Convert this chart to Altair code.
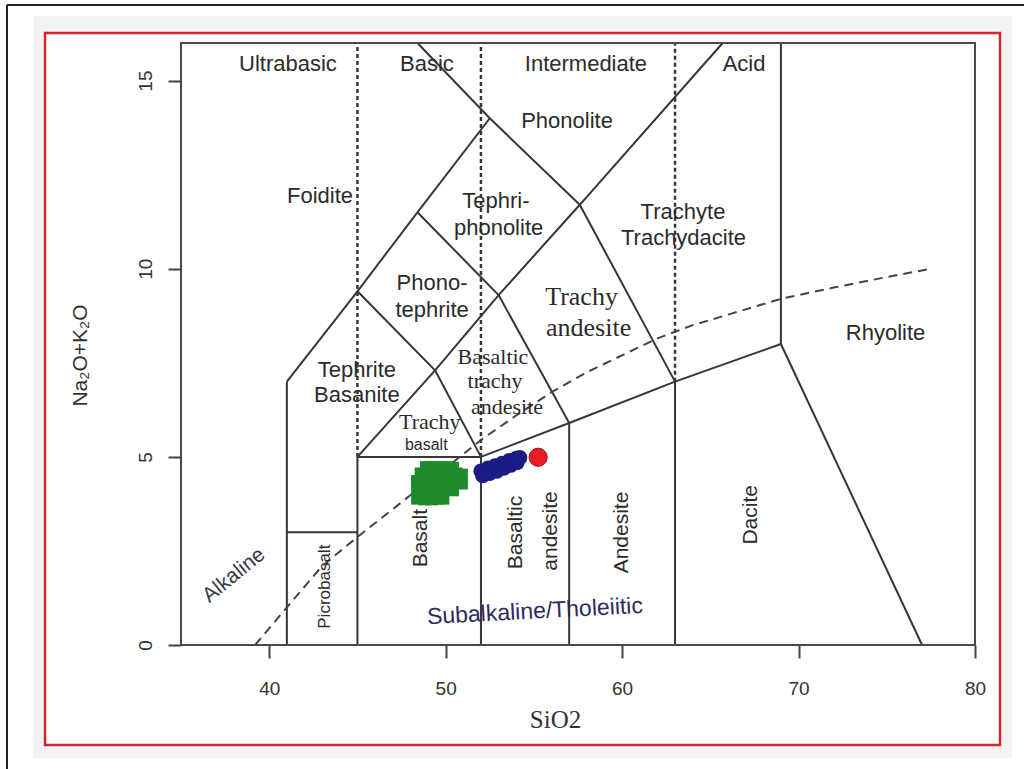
import altair as alt
import pandas as pd

# Axis ranges (SiO2 wt% vs total alkalis wt%)
SIO2_RANGE = [35, 80]
ALK_RANGE = [0, 16]
SIO2_TICKS = [40, 50, 60, 70, 80]
ALK_TICKS = [0, 5, 10, 15]

# TAS field boundaries: (x1, y1, x2, y2)
TAS_BOUNDARIES = [
    (41, 0, 41, 7), (41, 3, 45, 3), (45, 0, 45, 5), (45, 5, 52, 5),
    (52, 0, 52, 5), (52, 5, 57, 5.9), (57, 0, 57, 5.9), (57, 5.9, 63, 7),
    (63, 0, 63, 7), (63, 7, 69, 8), (69, 8, 77, 0), (69, 8, 69, 16),
    (41, 7, 45, 9.4), (45, 9.4, 48.4, 11.5), (48.4, 11.5, 52.5, 14),
    (52.5, 14, 48.4, 16), (52.5, 14, 57.6, 11.7), (57.6, 11.7, 63, 7),
    (45, 5, 49.4, 7.3), (49.4, 7.3, 53, 9.3), (53, 9.3, 57.6, 11.7),
    (57.6, 11.7, 65.7, 16), (52, 5, 49.4, 7.3), (49.4, 7.3, 45, 9.4),
    (48.4, 11.5, 53, 9.3), (53, 9.3, 57, 5.9),
]

# Ultrabasic / basic / intermediate / acid dividers
SILICA_DIVIDERS = [(45, 5, 45, 16), (52, 5, 52, 16), (63, 7, 63, 16)]

# Alkaline / subalkaline divide (Irvine & Baragar)
DIVIDE_SIO2 = [39.2, 41, 43, 45, 48, 50, 52, 54, 56, 58, 60, 62, 64, 66, 69, 72, 75, 77.5]
DIVIDE_ALK = [0, 1.0, 2.1, 2.87, 3.98, 4.7, 5.45, 6.1, 6.72, 7.25, 7.7, 8.15, 8.5, 8.78, 9.2, 9.5, 9.78, 10.0]

# Field labels
SANS_LABELS = [
    ("Ultrabasic", 41.06, 15.44), ("Basic", 48.94, 15.44),
    ("Intermediate", 57.95, 15.44), ("Acid", 66.91, 15.44),
    ("Phonolite", 56.88, 13.93), ("Foidite", 42.88, 11.93),
    ("Tephri-", 52.85, 11.8), ("phonolite", 53.0, 11.08),
    ("Trachyte", 63.45, 11.51), ("Trachydacite", 63.48, 10.82),
    ("Phono-", 49.23, 9.62), ("tephrite", 49.23, 8.90),
    ("Rhyolite", 74.93, 8.28),
    ("Tephrite", 44.97, 7.31), ("Basanite", 44.97, 6.64),
]
SERIF_LARGE_LABELS = [("Trachy", 57.70, 9.25), ("andesite", 58.10, 8.42)]
SERIF_LABELS = [
    ("Basaltic", 52.68, 7.65), ("trachy", 52.80, 7.02),
    ("andesite", 53.48, 6.33), ("Trachy", 49.1, 5.93),
]
SMALL_LABELS = [("basalt", 48.9, 5.32)]
VERTICAL_LABELS = [
    ("Basalt", 48.6, 2.84), ("Basaltic", 53.99, 2.99),
    ("andesite", 55.97, 3.03), ("Andesite", 60.02, 2.99),
    ("Dacite", 67.3, 3.46),
]
PICRO_LABEL = [("Picrobasalt", 43.16, 1.55)]
ALKALINE_LABEL = [("Alkaline", 38.0, 1.85)]
SUBALKALINE_LABEL = [("Subalkaline/Tholeiitic", 55.06, 0.89)]

# Samples
GROUP1_SIO2 = [48.9, 49.3, 49.7, 50.1, 50.4,
               48.6, 49.0, 49.4, 49.8, 50.2, 50.6, 50.9,
               48.4, 48.8, 49.2, 49.6, 50.0, 50.4, 50.9,
               48.4, 48.8, 49.2, 49.6, 50.0, 50.4,
               48.4, 48.8, 49.2, 49.6, 49.85]
GROUP1_ALK = [4.72, 4.72, 4.72, 4.72, 4.70,
              4.55, 4.55, 4.55, 4.55, 4.55, 4.55, 4.52,
              4.35, 4.35, 4.35, 4.35, 4.35, 4.35, 4.30,
              4.15, 4.15, 4.15, 4.15, 4.15, 4.12,
              3.90, 3.88, 3.88, 3.90, 3.90]
GROUP2_SIO2 = [52.0, 52.4, 52.8, 53.2, 53.6, 54.0, 54.2,
               52.1, 52.5, 52.9, 53.3, 53.7, 54.05]
GROUP2_ALK = [4.62, 4.70, 4.76, 4.83, 4.90, 4.96, 4.98,
              4.50, 4.56, 4.62, 4.70, 4.78, 4.85]
GROUP3_SIO2 = [55.24]
GROUP3_ALK = [4.99]

W, H = 794, 602
INK = "#363636"
TEXT = "#2b2b2b"

xs = alt.Scale(domain=SIO2_RANGE, nice=False, zero=False)
ys = alt.Scale(domain=ALK_RANGE, nice=False, zero=False)

x_axis = alt.Axis(
    values=SIO2_TICKS, domain=False, grid=False, tickSize=13, tickWidth=2,
    tickColor="#444", labelFont="Liberation Sans", labelFontSize=19,
    labelColor="#333", labelPadding=21, labelFlush=False, title="SiO2",
    titleFont="Liberation Serif", titleFontSize=25, titleFontWeight="normal",
    titleColor="#333", titleX=374, titleY=74, titleAlign="center",
    titleBaseline="middle", zindex=1,
)
y_axis = alt.Axis(
    values=ALK_TICKS, domain=False, grid=False, tickSize=13, tickWidth=2,
    tickColor="#444", labelFont="Liberation Sans", labelFontSize=19,
    labelColor="#333", labelAngle=270, labelAlign="center",
    labelBaseline="bottom", labelPadding=13, title="Na₂O+K₂O",
    titleFont="Liberation Sans", titleFontSize=21, titleFontWeight="normal",
    titleColor="#333", titleAngle=270, titleX=-101, titleY=312,
    titleAlign="center", titleBaseline="middle", zindex=1,
)

X = alt.X("x:Q", scale=xs, axis=x_axis)
Y = alt.Y("y:Q", scale=ys, axis=y_axis)

one = pd.DataFrame({"k": [0]})

# Page decoration: shaded card, red frame and the dark edges
card = alt.Chart(one).mark_rect(fill="#f3f3f3").encode(
    x=alt.value(-148), x2=alt.value(831), y=alt.value(-27), y2=alt.value(715))
frame = alt.Chart(one).mark_rect(fill="white", stroke="#d0282c", strokeWidth=2.5).encode(
    x=alt.value(-136), x2=alt.value(819), y=alt.value(-10), y2=alt.value(702))
edge_top = alt.Chart(one).mark_rule(color="#222", strokeWidth=2).encode(
    x=alt.value(-174), x2=alt.value(843), y=alt.value(-38))
edge_left = alt.Chart(one).mark_rule(color="#222", strokeWidth=2).encode(
    x=alt.value(-174), y=alt.value(-38), y2=alt.value(726))
plot_box = alt.Chart(one).mark_rect(fillOpacity=0, stroke="#4a4a4a", strokeWidth=2).encode(
    x=alt.value(0), x2=alt.value(W), y=alt.value(0), y2=alt.value(H))

seg_df = pd.DataFrame(TAS_BOUNDARIES, columns=["x", "y", "x2", "y2"])
segments = alt.Chart(seg_df).mark_rule(color=INK, strokeWidth=2).encode(
    x=X, y=Y, x2="x2:Q", y2="y2:Q")

div_df = pd.DataFrame(SILICA_DIVIDERS, columns=["x", "y", "x2", "y2"])
dividers = alt.Chart(div_df).mark_rule(color=INK, strokeWidth=2.5, strokeDash=[4, 3]).encode(
    x=X, y=Y, x2="x2:Q", y2="y2:Q")

curve_df = pd.DataFrame({"x": DIVIDE_SIO2, "y": DIVIDE_ALK, "i": range(len(DIVIDE_SIO2))})
curve = alt.Chart(curve_df).mark_line(color="#444", strokeWidth=2, strokeDash=[9, 6]).encode(
    x=X, y=Y, order="i:Q")


def labels(rows, **style):
    df = pd.DataFrame(rows, columns=["label", "x", "y"])
    return alt.Chart(df).mark_text(**style).encode(x=X, y=Y, text="label:N")


text_layers = [
    labels(SANS_LABELS, font="Liberation Sans", fontSize=22, color=TEXT),
    labels(SERIF_LARGE_LABELS, font="Liberation Serif", fontSize=26, color=TEXT),
    labels(SERIF_LABELS, font="Liberation Serif", fontSize=22, color=TEXT),
    labels(SMALL_LABELS, font="Liberation Sans", fontSize=16, color=TEXT),
    labels(VERTICAL_LABELS, font="Liberation Sans", fontSize=21, color=TEXT, angle=270),
    labels(PICRO_LABEL, font="Liberation Sans", fontSize=17, color=TEXT, angle=270),
    labels(ALKALINE_LABEL, font="Liberation Sans", fontSize=21, color="#3a3a4a", angle=321),
    labels(SUBALKALINE_LABEL, font="Liberation Sans", fontSize=23, color="#2b2b5e", angle=357),
]

g1 = alt.Chart(pd.DataFrame({"x": GROUP1_SIO2, "y": GROUP1_ALK})).mark_square(
    size=160, color="#1f8a2c", opacity=1).encode(x=X, y=Y)
g2 = alt.Chart(pd.DataFrame({"x": GROUP2_SIO2, "y": GROUP2_ALK})).mark_circle(
    size=230, color="#1c1c86", opacity=1).encode(x=X, y=Y)
g3 = alt.Chart(pd.DataFrame({"x": GROUP3_SIO2, "y": GROUP3_ALK})).mark_circle(
    size=330, color="#ec1c24", opacity=1, stroke="#8a1515", strokeWidth=1).encode(x=X, y=Y)

chart = alt.layer(
    card, frame, edge_top, edge_left,
    segments, dividers, curve, *text_layers, g1, g2, g3, plot_box,
).properties(
    width=W, height=H,
    padding={"left": 181, "top": 43, "right": 49, "bottom": 124},
    autosize=alt.AutoSizeParams(type="none"),
    background="white",
).configure_view(strokeWidth=0)

chart.save("out.html", embed_options={"renderer": "svg", "actions": False})
